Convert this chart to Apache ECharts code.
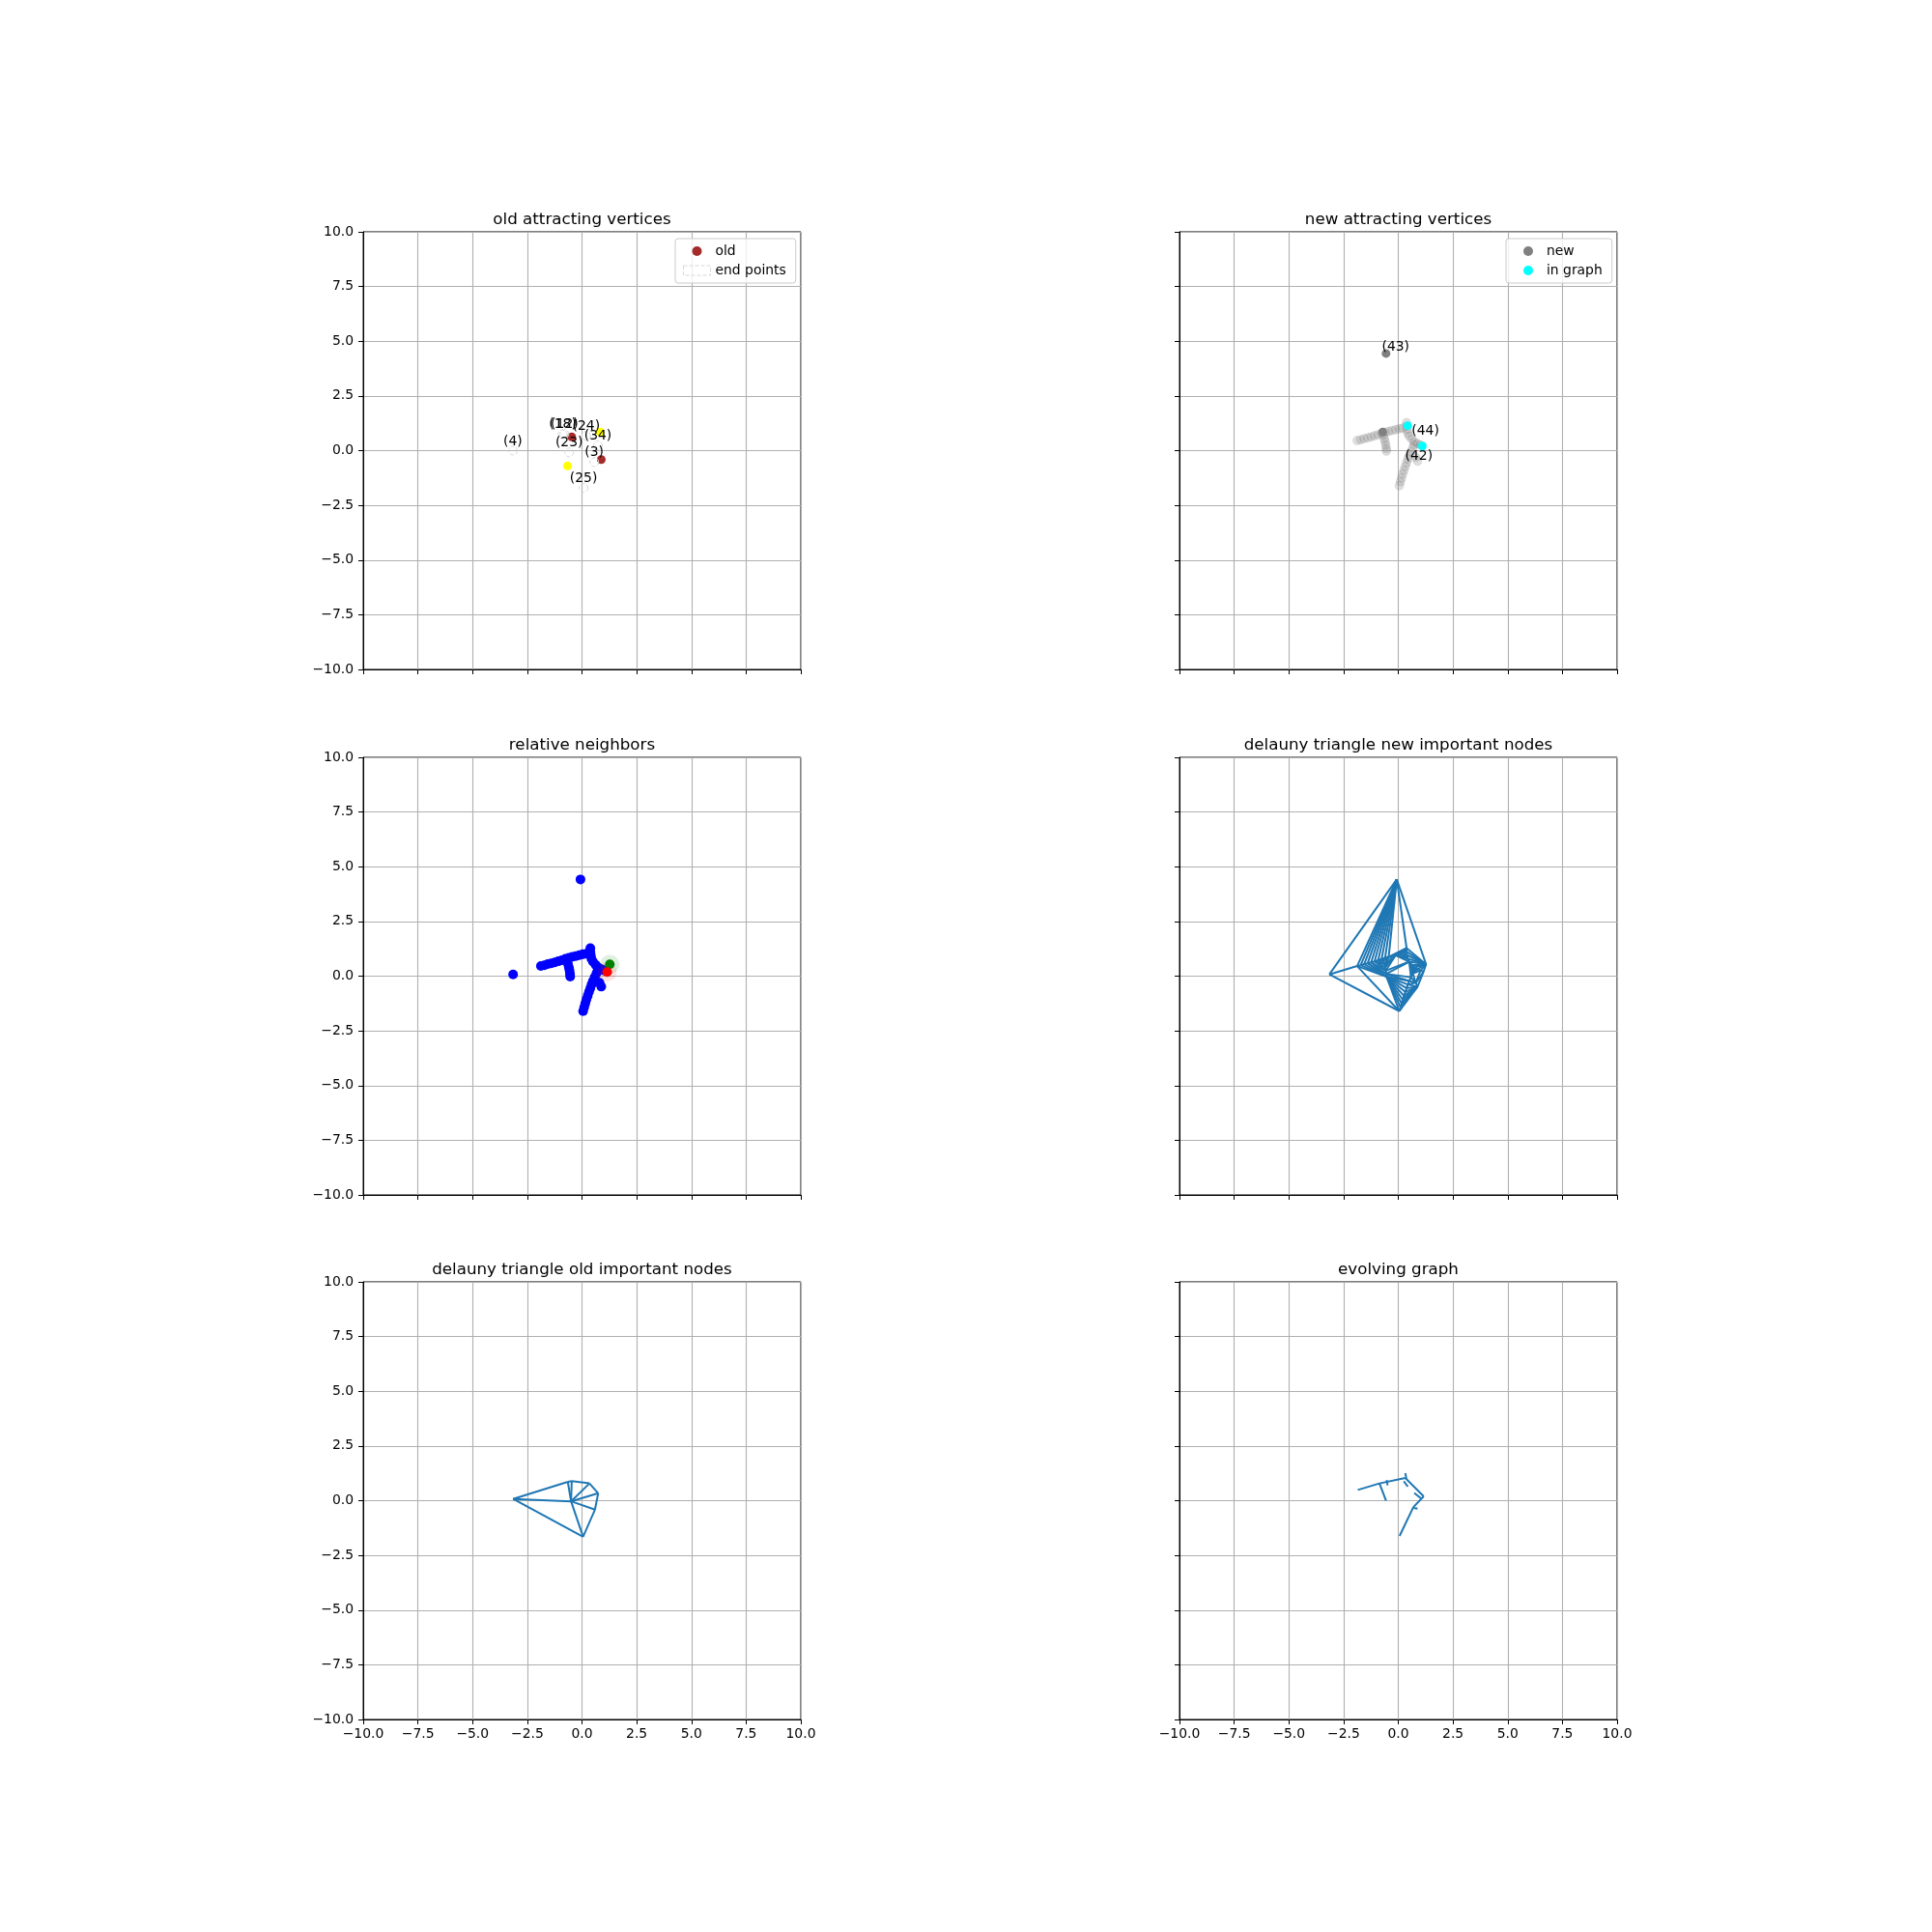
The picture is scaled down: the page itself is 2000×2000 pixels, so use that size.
<!DOCTYPE html>
<html lang="en">
<head>
    <meta charset="UTF-8">
    <title>attracting vertices</title>
    <style>
        body{ margin:0; background:#fff; }
        #main{ width:2000px; height:2000px; }
    </style>
</head>
<body>
<div id="main"></div>
<script src="https://cdn.jsdelivr.net/npm/echarts@6/dist/echarts.min.js"></script>
<script>
    // ---- data ----
    const titles = ['old attracting vertices','new attracting vertices','relative neighbors',
        'delauny triangle new important nodes','delauny triangle old important nodes','evolving graph']
    const ticks = [-10,-7.5,-5,-2.5,0,2.5,5,7.5,10]

    // panel 1
    const oldPts = [[-0.47,0.63],[0.88,-0.41]]
    const oldYellow = [[-0.66,-0.70],[0.83,0.85]]
    const endPts = [[-3.16,0.0],[-0.59,-0.08],[0.07,-1.70],[0.56,-0.52],[0.73,0.24],[0.19,0.68],[-0.88,0.76],[-0.80,0.76]]
    const endNames = ['(4)','(23)','(25)','(3)','(34)','(24)','(18)','(12)']

    // panel 2
    const newPts = [[-0.56,4.44],[-0.71,0.85]]
    const inGraphPts = [[0.43,1.14],[1.10,0.21]]
    const newLabels = [[-0.12,4.73,'(43)'],[1.24,0.87,'(44)'],[0.94,-0.26,'(42)']]

    // graph nodes (trail in panel 2, blue in panel 3)
    const armLeft = [[-1.88,0.46],[-1.72,0.50],[-1.56,0.55],[-1.40,0.59],[-1.24,0.63],[-1.08,0.68],[-0.92,0.73],
        [-0.76,0.79],[-0.60,0.84],[-0.44,0.88],[-0.28,0.92],[-0.12,0.96],[0.04,1.00],[0.20,1.03]]
    const armMid = [[-0.68,0.70],[-0.64,0.55],[-0.60,0.40],[-0.57,0.25],[-0.55,0.10],[-0.54,-0.02]]
    const armTop = [[0.38,1.28],[0.38,1.12],[0.40,0.96],[0.43,0.80],[0.50,0.66]]
    const armRight = [[0.62,0.52],[0.74,0.40],[0.88,0.32],[1.02,0.26]]
    const armDown = [[0.72,0.28],[0.66,0.12],[0.58,-0.05],[0.50,-0.22],[0.44,-0.38],[0.38,-0.55],[0.32,-0.72],
        [0.26,-0.90],[0.20,-1.07],[0.15,-1.25],[0.10,-1.42],[0.05,-1.60]]
    const spur = [[0.80,-0.30],[0.88,-0.48]]
    const lonePts = [[-3.15,0.08],[-0.07,4.42]]
    const greenPt = [[1.27,0.54]]
    const redPt = [[1.15,0.19]]

    // panel 5
    const oldNodes = [[-3.15,0.08],[-0.65,0.86],[-0.47,0.89],[0.34,0.79],[0.74,0.34],[0.59,-0.41],[0.05,-1.65],[-0.50,-0.03]]

    // panel 6
    const graphEdges = [
        [[-1.85,0.49],[-0.86,0.79]],[[-0.86,0.79],[0.32,1.04]],[[0.32,1.04],[1.16,0.20]],
        [[1.16,0.20],[0.69,-0.29]],[[0.69,-0.29],[0.06,-1.61]],[[-0.86,0.79],[-0.56,0.01]],
        [[-0.53,0.94],[-0.49,0.70]],[[0.32,1.26],[0.37,1.01]],[[0.25,0.89],[0.44,0.64]],
        [[0.73,0.35],[1.03,0.11]],[[0.69,-0.33],[0.88,-0.36]]
    ]

    // ---- helpers ----
    const trail = [].concat(armLeft, armMid, armTop, armRight, armDown, spur)
    const bluePts = trail.concat(lonePts)

    // Bowyer-Watson, returns unique edges
    function delaunayEdges(pts){
        const n = pts.length
        const P = pts.map(p=>[p[0],p[1]])
        const M = 1e4
        P.push([-M,-M],[M,-M],[0,M])
        const circ = t=>{
            const [ax,ay]=P[t[0]],[bx,by]=P[t[1]],[cx,cy]=P[t[2]]
            const d = 2*(ax*(by-cy)+bx*(cy-ay)+cx*(ay-by))
            const a2=ax*ax+ay*ay, b2=bx*bx+by*by, c2=cx*cx+cy*cy
            const ux = (a2*(by-cy)+b2*(cy-ay)+c2*(ay-by))/d
            const uy = (a2*(cx-bx)+b2*(ax-cx)+c2*(bx-ax))/d
            return [ux,uy,(ax-ux)**2+(ay-uy)**2]
        }
        let tris = [[n,n+1,n+2]]
        for(let i=0;i<n;i++){
            const [px,py] = P[i]
            const bad=[], keep=[]
            tris.forEach(t=>{
                const c = t.c || (t.c = circ(t))
                if((px-c[0])**2+(py-c[1])**2 < c[2]) bad.push(t); else keep.push(t)
            })
            const cnt = {}
            const edgesOf = t=>[[t[0],t[1]],[t[1],t[2]],[t[2],t[0]]]
            const key = e=>Math.min(e[0],e[1])+'_'+Math.max(e[0],e[1])
            bad.forEach(t=>edgesOf(t).forEach(e=>{cnt[key(e)]=(cnt[key(e)]||0)+1}))
            const fresh = []
            bad.forEach(t=>edgesOf(t).forEach(e=>{ if(cnt[key(e)]===1) fresh.push([e[0],e[1],i]) }))
            tris = keep.concat(fresh)
        }
        const seen = {}, out = []
        tris.filter(t=>t[0]<n&&t[1]<n&&t[2]<n).forEach(t=>{
            [[t[0],t[1]],[t[1],t[2]],[t[2],t[0]]].forEach(e=>{
                const k = Math.min(e[0],e[1])+'_'+Math.max(e[0],e[1])
                if(!seen[k]){ seen[k]=1; out.push([pts[e[0]],pts[e[1]]]) }
            })
        })
        return out
    }

    const fmt = v=>(v<0?'\u2212':'')+Math.abs(v).toFixed(1)
    const font = 'DejaVu Sans'
    const blue = '#1f77b4'

    const pos = [[376,240],[1221,240],[376,784],[1221,784],[376,1327],[1221,1327]]
    const grid = pos.map(p=>({left:p[0], top:p[1], width:453, height:453,
        show:true, borderColor:'#000', borderWidth:1, backgroundColor:'#fff'}))
    const title = pos.map((p,i)=>({text:titles[i], left:p[0]+226.5, top:p[1]-21, textAlign:'center', padding:0,
        textStyle:{fontFamily:font, fontSize:16.7, fontWeight:'normal', color:'#000'}}))

    const axisCommon = {type:'value', min:-10, max:10, interval:2.5,
        axisLine:{show:true, onZero:false, lineStyle:{color:'#000', width:1}},
        axisTick:{show:true, inside:false, length:5, lineStyle:{color:'#000', width:1}},
        splitLine:{show:true, lineStyle:{color:'#b0b0b0', width:1.1}}}
    const xAxis = pos.map((p,i)=>Object.assign({}, axisCommon, {gridIndex:i,
        axisLabel:{show:i>=4, margin:8, fontFamily:font, fontSize:13.9, color:'#000', formatter:fmt}}))
    const yAxis = pos.map((p,i)=>Object.assign({}, axisCommon, {gridIndex:i,
        axisLabel:{show:i%2===0, margin:10, fontFamily:font, fontSize:13.9, color:'#000', formatter:fmt}}))

    const sc = (i, name, data, style)=>{
        const s = Object.assign({type:'scatter', name, xAxisIndex:i, yAxisIndex:i, data,
            symbolSize:9, animation:false, emphasis:{disabled:true}}, style)
        s.itemStyle = Object.assign({opacity:1}, s.itemStyle)
        return s
    }
    const ln = (i, edges)=>({type:'lines', coordinateSystem:'cartesian2d', xAxisIndex:i, yAxisIndex:i,
        data:edges.map(e=>({coords:e})), lineStyle:{color:blue, width:2, opacity:1}, animation:false, silent:true})

    const labelStyle = {show:true, position:'inside', color:'#000', fontFamily:font, fontSize:13.9}

    const series = [
        // panel 1
        sc(0,'old', oldPts, {itemStyle:{color:'#a52a2a'}, z:3}),
        sc(0,'yellow', oldYellow, {itemStyle:{color:'#ffff00'}, z:3}),
        sc(0,'end points', endPts.map((p,k)=>({value:p, name:endNames[k]})), {
            itemStyle:{color:'rgba(255,255,255,0)', borderColor:'#d8d8d8', borderType:'dashed', borderWidth:1},
            label:Object.assign({}, labelStyle, {offset:[0,-9.5], formatter:d=>d.name}), z:5}),
        // panel 2
        sc(1,'trail', trail, {itemStyle:{color:'#808080', opacity:0.25, borderColor:'#606060', borderWidth:0.5}}),
        sc(1,'new', newPts, {itemStyle:{color:'#808080'}, z:4}),
        sc(1,'in graph', inGraphPts, {itemStyle:{color:'#00ffff'}, z:4}),
        sc(1,'labels2', newLabels.map(d=>({value:[d[0],d[1]], name:d[2]})), {symbolSize:1,
            itemStyle:{color:'rgba(0,0,0,0)'}, label:Object.assign({}, labelStyle, {formatter:d=>d.name}), z:5}),
        // panel 3
        sc(2,'nodes', bluePts, {symbolSize:10, itemStyle:{color:'#0000ff'}}),
        sc(2,'halo g', greenPt, {symbolSize:20, itemStyle:{color:'rgba(0,128,0,0.12)'}, z:3}),
        sc(2,'halo r', redPt, {symbolSize:20, itemStyle:{color:'rgba(255,0,0,0.10)'}, z:3}),
        sc(2,'green', greenPt, {symbolSize:10, itemStyle:{color:'#008000'}, z:4}),
        sc(2,'red', redPt, {symbolSize:10, itemStyle:{color:'#ff0000'}, z:4}),
        // panel 4, 5, 6
        ln(3, delaunayEdges(bluePts.concat(greenPt, redPt))),
        ln(4, delaunayEdges(oldNodes)),
        ln(5, graphEdges)
    ]

    const legendCommon = {orient:'vertical', itemWidth:28, itemHeight:10, itemGap:6,
        backgroundColor:'rgba(255,255,255,0.8)', borderColor:'#cccccc', borderWidth:1, borderRadius:3,
        selectedMode:false, textStyle:{fontFamily:font, fontSize:13.9, color:'#000'}}
    const legend = [
        Object.assign({}, legendCommon, {left:699, top:247, padding:[6,10,6,8], data:[
            {name:'old', icon:'circle'},
            {name:'end points', icon:'rect', itemStyle:{color:'rgba(255,255,255,0)', borderColor:'#d8d8d8', borderType:'dashed', borderWidth:1}}]}),
        Object.assign({}, legendCommon, {left:1559, top:247, padding:[6,10,6,18], data:[
            {name:'new', icon:'circle'}, {name:'in graph', icon:'circle'}]})
    ]

    const myChart = echarts.init(document.getElementById('main'))
    myChart.setOption({animation:false, title, grid, xAxis, yAxis, legend, series})
</script>
</body>
</html>
